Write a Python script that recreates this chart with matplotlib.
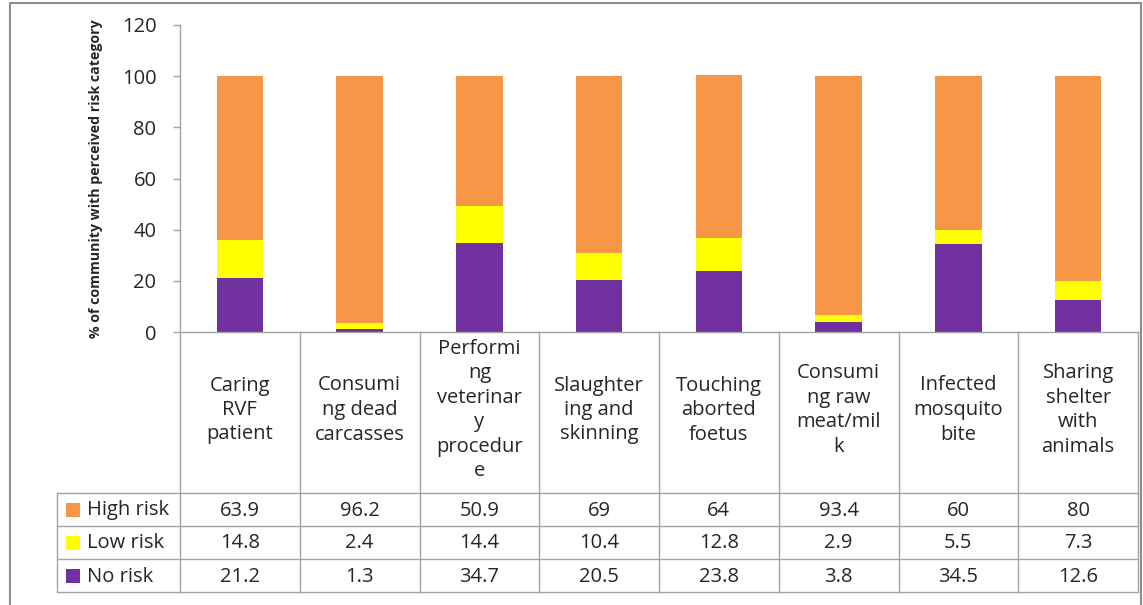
import matplotlib
matplotlib.use("Agg")
import matplotlib.pyplot as plt
import numpy as np

# category labels (line breaks as in the source chart)
CATEGORIES = ["Caring\nRVF\npatient", "Consumi\nng dead\ncarcasses",
              "Performi\nng\nveterinar\ny\nprocedur\ne", "Slaughter\ning and\nskinning",
              "Touching\naborted\nfoetus", "Consumi\nng raw\nmeat/mil\nk",
              "Infected\nmosquito\nbite", "Sharing\nshelter\nwith\nanimals"]
HIGH_RISK = [63.9, 96.2, 50.9, 69, 64, 93.4, 60, 80]
LOW_RISK = [14.8, 2.4, 14.4, 10.4, 12.8, 2.9, 5.5, 7.3]
NO_RISK = [21.2, 1.3, 34.7, 20.5, 23.8, 3.8, 34.5, 12.6]
SERIES = ["High risk", "Low risk", "No risk"]
COLORS = {"High risk": "#F79646", "Low risk": "#FFFF00", "No risk": "#7030A0"}
YTICKS = [0, 20, 40, 60, 80, 100, 120]
YLABEL = "% of community with perceived risk category"

W, H = 1143, 605
AX_L, AX_R, AX_T, AX_B = 180, 1138, 25, 332
HDR_B, ROW_H, LEG_L = 493, 33, 57
GRID = "#a3a3a3"
TXT = "#262626"
FONT = "Open Sans"


def main():
    plt.rcParams["font.family"] = [FONT, "DejaVu Sans"]
    fig = plt.figure(figsize=(W / 100, H / 100), dpi=100)
    fig.patch.set_facecolor("white")

    # bar axes
    ax = fig.add_axes([AX_L / W, 1 - AX_B / H, (AX_R - AX_L) / W, (AX_B - AX_T) / H])
    ax.set_facecolor("none")
    n = len(CATEGORIES)
    x = np.arange(n)
    values = {"High risk": HIGH_RISK, "Low risk": LOW_RISK, "No risk": NO_RISK}
    bottom = np.zeros(n)
    for s in ["No risk", "Low risk", "High risk"]:
        v = np.array(values[s], float)
        ax.bar(x, v, 0.39, bottom=bottom, color=COLORS[s], lw=0, zorder=2)
        bottom += v
    ax.set_xlim(-0.5, n - 0.5)
    ax.set_ylim(0, 120)
    ax.set_yticks(YTICKS)
    ax.set_xticks([])
    ax.tick_params(axis="y", length=5, width=1, color=GRID, pad=12,
                   labelsize=14.5, labelcolor=TXT)
    for side in ["top", "right"]:
        ax.spines[side].set_visible(False)
    for side in ["left", "bottom"]:
        ax.spines[side].set_color(GRID)
        ax.spines[side].set_linewidth(1)

    # overlay in pixel coordinates for the data table and frame
    tab = fig.add_axes([0, 0, 1, 1])
    tab.set_xlim(0, W)
    tab.set_ylim(H, 0)
    tab.axis("off")
    tab.patch.set_alpha(0)

    tab.text(96, (AX_T + AX_B) / 2, YLABEL, rotation=90, ha="center", va="center",
             fontsize=10.2, fontweight="bold", color=TXT)

    cw = (AX_R - AX_L) / n
    rows_bottom = HDR_B + ROW_H * len(SERIES)
    for i in range(n + 1):
        tab.plot([AX_L + i * cw] * 2, [AX_B, rows_bottom], color=GRID, lw=1)
    tab.plot([LEG_L, LEG_L], [HDR_B, rows_bottom], color=GRID, lw=1)
    for j in range(len(SERIES) + 1):
        y = HDR_B + j * ROW_H
        tab.plot([LEG_L, AX_R], [y, y], color=GRID, lw=1)

    for i, cat in enumerate(CATEGORIES):
        cx = AX_L + (i + 0.5) * cw
        tab.text(cx, 410, cat, ha="center", va="center", fontsize=14.5,
                 linespacing=1.3, color=TXT)
        for j, s in enumerate(SERIES):
            tab.text(cx, HDR_B + (j + 0.5) * ROW_H + 1, f"{values[s][i]:g}",
                     ha="center", va="center", fontsize=14.5, color=TXT)

    for j, s in enumerate(SERIES):
        yc = HDR_B + (j + 0.5) * ROW_H
        tab.add_patch(plt.Rectangle((66, yc - 7), 14, 14, color=COLORS[s], lw=0))
        tab.text(87, yc + 1, s, ha="left", va="center", fontsize=14.5, color=TXT)

    # outer frame
    tab.plot([10, 10, 1141, 1141], [H + 5, 3, 3, H + 5], color="#8c8c8c", lw=1.5)

    fig.savefig("out.png", dpi=100)


if __name__ == "__main__":
    main()
